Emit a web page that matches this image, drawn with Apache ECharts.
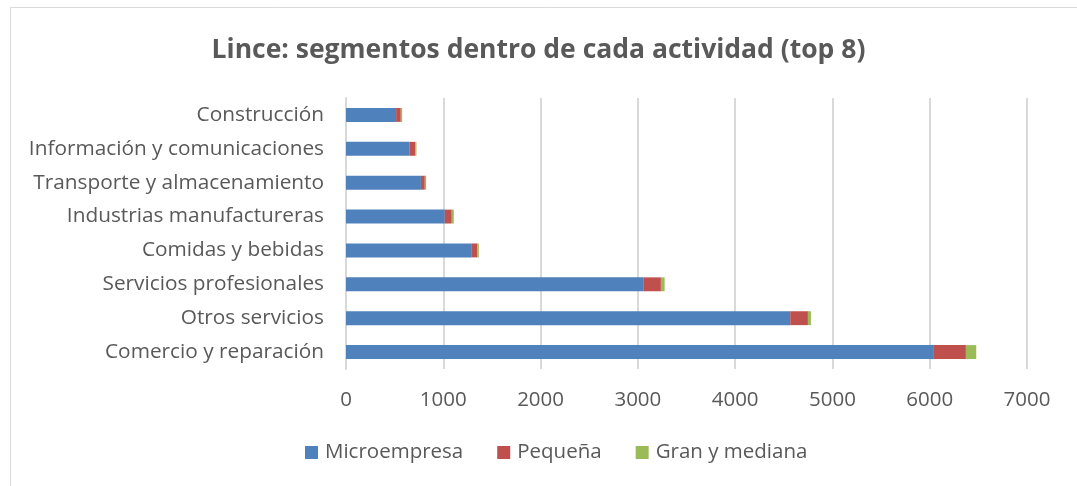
<!DOCTYPE html>
<html>
<head>
<meta charset="utf-8">
<script src="https://cdn.jsdelivr.net/npm/echarts@6/dist/echarts.min.js"></script>
<style>
  html, body { margin: 0; padding: 0; background: #fff; }
  #chart { width: 1077px; height: 486px; }
</style>
</head>
<body>
<div id="chart"></div>
<script>
// actividades, de abajo hacia arriba
const categories = [
  'Comercio y reparación',
  'Otros servicios',
  'Servicios profesionales',
  'Comidas y bebidas',
  'Industrias manufactureras',
  'Transporte y almacenamiento',
  'Información y comunicaciones',
  'Construcción'
]
const microempresa = [6043, 4566, 3055, 1287, 1015, 770, 655, 515]
const pequena      = [329, 182, 182, 64, 72, 40, 58, 48]
const granMediana  = [106, 31, 38, 14, 21, 14, 11, 14]
const xTicks = [0, 1000, 2000, 3000, 4000, 5000, 6000, 7000]

const FONT = '"Open Sans", sans-serif'
const TXT = '#595959'

const chart = echarts.init(document.getElementById('chart'), null, { renderer: 'canvas' })

const mkSeries = (name, data, color) => ({
  name,
  type: 'bar',
  stack: 'total',
  data,
  barCategoryGap: '59%',
  itemStyle: { color },
  emphasis: { disabled: true }
})

chart.setOption({
  backgroundColor: '#fff',
  animation: false,
  title: {
    text: 'Lince: segmentos dentro de cada actividad (top 8)',
    left: 'center',
    top: 32,
    textStyle: { fontFamily: FONT, fontSize: 26.5, fontWeight: 'bold', color: TXT }
  },
  graphic: [{
    type: 'rect',
    shape: { x: 10.5, y: 7.5, width: 1200, height: 600 },
    style: { fill: 'none', stroke: '#d9d9d9', lineWidth: 1 },
    silent: true
  }],
  legend: {
    bottom: 18,
    left: 300,
    itemWidth: 13,
    itemHeight: 13,
    itemGap: 34,
    icon: 'rect',
    textStyle: { fontFamily: FONT, fontSize: 20.5, color: TXT, padding: [0, 0, 0, 2] },
    data: ['Microempresa', 'Pequeña', 'Gran y mediana']
  },
  grid: { left: 346, right: 50, top: 98, bottom: 117 },
  xAxis: {
    type: 'value',
    min: xTicks[0],
    max: xTicks[xTicks.length - 1],
    interval: 1000,
    axisLine: { show: false },
    axisTick: { show: false },
    axisLabel: { fontFamily: FONT, fontSize: 20.5, color: TXT, margin: 21, formatter: v => String(v) },
    splitLine: { lineStyle: { color: '#d9d9d9', width: 2 } }
  },
  yAxis: {
    type: 'category',
    data: categories,
    axisLine: { lineStyle: { color: '#d9d9d9', width: 2 } },
    axisTick: { show: false },
    axisLabel: { fontFamily: FONT, fontSize: 20.8, color: TXT, margin: 22, padding: [3, 0, 0, 0] }
  },
  series: [
    mkSeries('Microempresa', microempresa, '#4f81bd'),
    mkSeries('Pequeña', pequena, '#c0504d'),
    mkSeries('Gran y mediana', granMediana, '#9bbb59')
  ]
})
</script>
</body>
</html>
